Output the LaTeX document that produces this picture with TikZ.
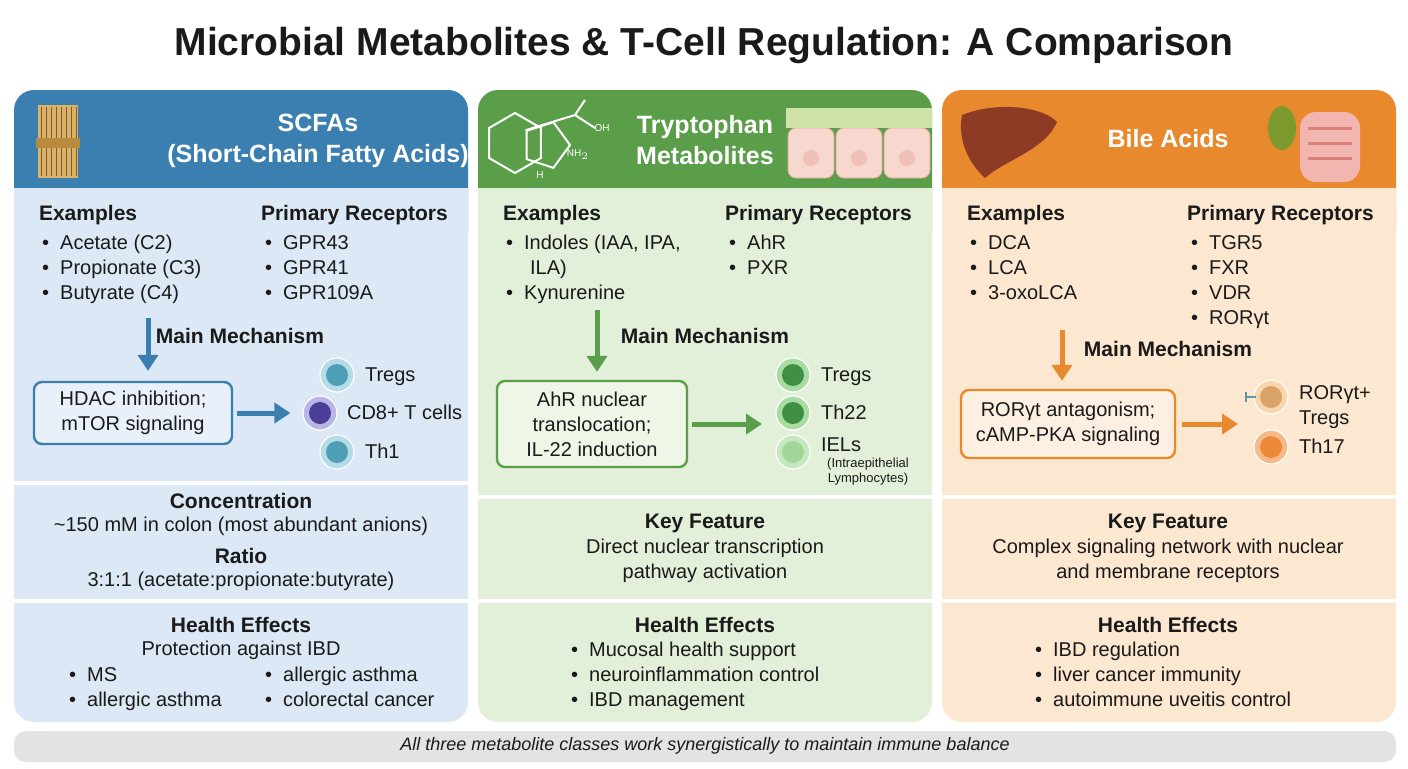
\documentclass[tikz,border=0pt]{standalone}
\usepackage{fontspec}
\setmainfont{Liberation Sans}
\usetikzlibrary{positioning,arrows.meta,shapes.geometric}
\definecolor{bluehd}{HTML}{3A7FB0}
\definecolor{bluebg}{HTML}{DCE8F5}
\definecolor{bluebox}{HTML}{E8F0F9}
\definecolor{greenhd}{HTML}{5A9E4A}
\definecolor{greenbg}{HTML}{E3F0D9}
\definecolor{greenbox}{HTML}{EEF6E8}
\definecolor{orangehd}{HTML}{E8892E}
\definecolor{orangebg}{HTML}{FCE7D0}
\definecolor{orangebox}{HTML}{FDF0E2}
\definecolor{txtc}{HTML}{1A1A1A}
\definecolor{wheat}{HTML}{D9B36A}
\definecolor{wheatband}{HTML}{B88A3E}
\definecolor{epith}{HTML}{F6D8CF}
\definecolor{epithline}{HTML}{E0A8A0}
\definecolor{nucleus}{HTML}{EFC0B5}
\definecolor{brush}{HTML}{CFE3A8}
\definecolor{liver}{HTML}{8E3B26}
\definecolor{gall}{HTML}{7C9A2E}
\definecolor{gut}{HTML}{F2B5B0}
\definecolor{gutline}{HTML}{D9807A}
\definecolor{tealc}{HTML}{5A9AA0}
\definecolor{cblueo}{HTML}{B5DCE6}
\definecolor{cbluei}{HTML}{4E9FB5}
\definecolor{cviolo}{HTML}{B8B6E8}
\definecolor{cvioli}{HTML}{4C3D96}
\definecolor{cgreeno}{HTML}{A9DCA0}
\definecolor{cgreeni}{HTML}{3F8F45}
\definecolor{cpaleo}{HTML}{C5E8BE}
\definecolor{cpalei}{HTML}{A2D699}
\definecolor{cbeigeo}{HTML}{F8D7AE}
\definecolor{cbeigei}{HTML}{D9A36A}
\definecolor{corngo}{HTML}{F7B98A}
\definecolor{corngi}{HTML}{EC8A3A}
\tikzset{%
	hd/.style    = {font=\fontsize{10.5}{12}\selectfont\bfseries, text=txtc},
	txt/.style   = {font=\fontsize{10}{12.5}\selectfont, text=txtc, align=center},
	lbl/.style   = {font=\fontsize{10}{12.5}\selectfont, text=txtc, anchor=west,
		text height=1.5ex, text depth=0.3ex},
	head/.style  = {font=\fontsize{12.5}{15.5}\selectfont\bfseries, text=white, align=center},
	mech/.style  = {draw=#1hd, rounded corners=4pt, line width=1.2pt, fill=#1box,
		text=txtc, font=\fontsize{10}{12.5}\selectfont, align=center, inner sep=0pt},
	flow/.style  = {line width=2.5pt, -{Triangle[length=8pt,width=10pt]}},
	cell/.style  = {circle, draw=white, line width=0.6pt, minimum size=17pt, inner sep=0pt}
}
\newcommand{\cellpic}[4]{% name, position, outer, inner
	\node[cell, fill=#3] (#1) at #2 {};
	\fill[#4] (#1.center) circle (5.5pt);
}
\begin{document}
\begin{tikzpicture}[x=0.5pt, y=-0.5pt]
	\useasboundingbox (0,0) rectangle (1408,768);
	\fill[white] (0,0) rectangle (1408,768);
	\node[font=\fontsize{19.5}{24}\selectfont\bfseries, text=txtc] (title) at (704,45) {Microbial Metabolites \& T-Cell Regulation: A Comparison};

	% panels
	\foreach \x/\c in {14/blue, 478/green, 942/orange}{
		\fill[\c hd, rounded corners=10] (\x,90) rectangle (\x+454,250);
		\fill[\c bg, rounded corners=10] (\x,188) rectangle (\x+454,722);
		\fill[\c bg] (\x,188) rectangle (\x+454,250);
	}
	\draw[white, line width=2pt] (14,483) -- (468,483) (14,601) -- (468,601);
	\draw[white, line width=2pt] (478,497) -- (932,497) (478,601) -- (932,601);
	\draw[white, line width=2pt] (942,497) -- (1396,497) (942,601) -- (1396,601);

	% ---- SCFAs ----
	\fill[wheat] (38,105) rectangle (78,178);
	\foreach \i in {41,46,...,76} \draw[brown!70!black, line width=0.5pt] (\i,107) -- (\i,176);
	\fill[wheatband] (36,138) rectangle (80,148);
	\node[head] (h1) at (318,141) {SCFAs\\(Short-Chain Fatty Acids)};
	\node[hd, anchor=west] (ex1) at (32,215) {Examples};
	\node[hd, anchor=west] (re1) at (254,215) {Primary Receptors};
	\foreach \t [count=\i] in {Acetate (C2), Propionate (C3), Butyrate (C4)}
		\node[lbl] (e1\i) at (35,218+25*\i) {\textbullet\ \ \t};
	\foreach \t [count=\i] in {GPR43, GPR41, GPR109A}
		\node[lbl] (r1\i) at (258,218+25*\i) {\textbullet\ \ \t};
	\coordinate (a1) at (148,318);
	\node[hd] (mm1) at (240,336) {Main Mechanism};
	\node[mech=blue, minimum width=99pt, minimum height=31pt] (m1) at (133,413) {HDAC inhibition;\\mTOR signaling};
	\draw[flow, bluehd] (a1) -- ([yshift=5pt]m1.north -| a1);
	\cellpic{c11}{(337,375)}{cblueo}{cbluei}
	\cellpic{c12}{(320,413)}{cviolo}{cvioli}
	\cellpic{c13}{(337,452)}{cblueo}{cbluei}
	\draw[flow, bluehd] ([xshift=2pt]m1.east) -- ([xshift=-6pt]c12.west);
	\node[lbl] (t11) at (358,375) {Tregs};
	\node[lbl] (t12) at (340,413) {CD8+ T cells};
	\node[lbl] (t13) at (358,452) {Th1};
	\node[hd] (k1) at (241,501) {Concentration};
	\node[txt] (k1a) at (241,526) {\textasciitilde150 mM in colon (most abundant anions)};
	\node[hd] (k1b) at (241,556) {Ratio};
	\node[txt] (k1c) at (241,581) {3:1:1 (acetate:propionate:butyrate)};
	\node[hd] (he1) at (241,625) {Health Effects};
	\node[txt] (he1a) at (241,650) {Protection against IBD};
	\node[lbl] (b11) at (62,675) {\textbullet\ \ MS};
	\node[lbl] (b12) at (62,700) {\textbullet\ \ allergic asthma};
	\node[lbl] (b13) at (258,675) {\textbullet\ \ allergic asthma};
	\node[lbl] (b14) at (258,700) {\textbullet\ \ colorectal cancer};

	% ---- Tryptophan ----
	\node[regular polygon, regular polygon sides=6, draw=white, line width=1pt, minimum size=30pt, rotate=30] (hex) at (515,143) {};
	\node[regular polygon, regular polygon sides=5, draw=white, line width=1pt, minimum size=24pt, rotate=-18] (pent) at (546,145) {};
	\draw[white, line width=1pt] (pent.corner 2) -- (575,115) -- (595,128) (575,115) -- (585,100);
	\node[white, font=\tiny] (oh) at (602,128) {OH};
	\node[white, font=\tiny] (nh) at (578,155) {NH$_2$};
	\node[white, font=\tiny] (hn) at (540,175) {H};
	\node[head] (h2) at (705,140) {Tryptophan\\Metabolites};
	\foreach \i in {0,1,2}{
		\filldraw[fill=epith, draw=epithline, rounded corners=4] (788+\i*48,128) rectangle (834+\i*48,178);
		\fill[nucleus] (811+\i*48,158) circle (4pt);
	}
	\fill[brush] (786,108) rectangle (932,128);
	\node[hd, anchor=west] (ex2) at (496,215) {Examples};
	\node[hd, anchor=west] (re2) at (718,215) {Primary Receptors};
	\node[lbl] (e21) at (499,243) {\textbullet\ \ Indoles (IAA, IPA,};
	\node[lbl] (e22) at (523,268) {ILA)};
	\node[lbl] (e23) at (499,293) {\textbullet\ \ Kynurenine};
	\node[lbl] (r21) at (722,243) {\textbullet\ \ AhR};
	\node[lbl] (r22) at (722,268) {\textbullet\ \ PXR};
	\coordinate (a2) at (597,310);
	\node[hd] (mm2) at (705,336) {Main Mechanism};
	\node[mech=green, minimum width=95pt, minimum height=43pt] (m2) at (592,424) {AhR nuclear\\translocation;\\IL-22 induction};
	\draw[flow, greenhd] (a2) -- ([yshift=4pt]m2.north -| a2);
	\cellpic{c21}{(793,375)}{cgreeno}{cgreeni}
	\cellpic{c22}{(793,413)}{cgreeno}{cgreeni}
	\cellpic{c23}{(793,452)}{cpaleo}{cpalei}
	\draw[flow, greenhd] ([xshift=2pt]m2.east) -- (762,424) coordinate (a2e);
	\node[lbl] (t21) at (814,375) {Tregs};
	\node[lbl] (t22) at (814,413) {Th22};
	\node[lbl] (t23) at (814,445) {IELs};
	\node[font=\fontsize{6.5}{7.5}\selectfont, text=txtc, align=center] (t24) at (868,472) {(Intraepithelial\\Lymphocytes)};
	\node[hd] (k2) at (705,523) {Key Feature};
	\node[txt] (k2a) at (705,561) {Direct nuclear transcription\\pathway activation};
	\node[hd] (he2) at (705,625) {Health Effects};
	\foreach \t [count=\i] in {Mucosal health support, neuroinflammation control, IBD management}
		\node[lbl] (b2\i) at (564,625+25*\i) {\textbullet\ \ \t};

	% ---- Bile acids ----
	\fill[liver] (962,115) .. controls (1000,100) and (1045,108) .. (1057,122) .. controls (1045,150) and (1005,160) .. (985,178) .. controls (965,160) and (958,135) .. (962,115);
	\fill[gall] (1282,128) ellipse (7pt and 11pt);
	\fill[gut, rounded corners=8] (1300,112) rectangle (1360,182);
	\foreach \i in {128,143,158} \draw[gutline, line width=1.5pt] (1308,\i) -- (1352,\i);
	\node[head] (h3) at (1168,139) {Bile Acids};
	\node[hd, anchor=west] (ex3) at (960,215) {Examples};
	\node[hd, anchor=west] (re3) at (1180,215) {Primary Receptors};
	\foreach \t [count=\i] in {DCA, LCA, 3-oxoLCA}
		\node[lbl] (e3\i) at (963,218+25*\i) {\textbullet\ \ \t};
	\foreach \t [count=\i] in {TGR5, FXR, VDR, RORγt}
		\node[lbl] (r3\i) at (1184,218+25*\i) {\textbullet\ \ \t};
	\coordinate (a3) at (1062,330);
	\node[hd] (mm3) at (1168,349) {Main Mechanism};
	\node[mech=orange, minimum width=107pt, minimum height=34pt] (m3) at (1068,424) {RORγt antagonism;\\cAMP-PKA signaling};
	\draw[flow, orangehd] (a3) -- ([yshift=4pt]m3.north -| a3);
	\cellpic{c31}{(1271,397)}{cbeigeo}{cbeigei}
	\cellpic{c32}{(1271,447)}{corngo}{corngi}
	\draw[tealc, line width=1pt] (1256,397) -- (1246,397) (1246,392) -- (1246,402);
	\draw[flow, orangehd] ([xshift=3pt]m3.east) -- (1238,424) coordinate (a3e);
	\node[font=\fontsize{10}{12.5}\selectfont, text=txtc, anchor=west, align=left] (t31) at (1292,407) {RORγt+\\Tregs};
	\node[lbl] (t32) at (1292,447) {Th17};
	\node[hd] (k3) at (1168,523) {Key Feature};
	\node[txt] (k3a) at (1168,561) {Complex signaling network with nuclear\\and membrane receptors};
	\node[hd] (he3) at (1168,625) {Health Effects};
	\foreach \t [count=\i] in {IBD regulation, liver cancer immunity, autoimmune uveitis control}
		\node[lbl] (b3\i) at (1028,625+25*\i) {\textbullet\ \ \t};

	% footer
	\fill[black!11, rounded corners=6] (14,731) rectangle (1396,762);
	\node[font=\fontsize{9}{11}\selectfont\itshape, text=txtc] (foot) at (705,746) {All three metabolite classes work synergistically to maintain immune balance};
\end{tikzpicture}
\end{document}
